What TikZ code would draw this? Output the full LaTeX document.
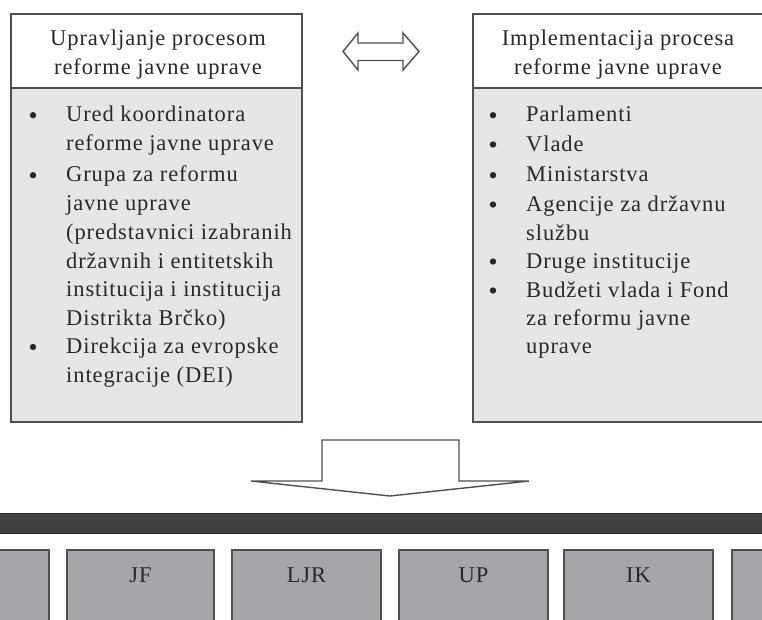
\documentclass[tikz,border=0pt]{standalone}
\usepackage{fontspec}
\setmainfont{Liberation Serif}[LetterSpace=4]
\definecolor{bodygray}{RGB}{229,230,232}
\definecolor{boxgray}{RGB}{165,166,170}
\definecolor{bargray}{RGB}{64,64,64}
\definecolor{edgegray}{RGB}{80,80,80}
\definecolor{inkgray}{RGB}{40,40,40}
\tikzset{
  frame/.style={draw=edgegray, line width=1.6pt},
  headbox/.style={frame, fill=white},
  bodybox/.style={frame, fill=bodygray},
  unitbox/.style={frame, fill=boxgray},
  linetxt/.style={font=\fontsize{22.5}{28.8}\selectfont, text=inkgray, inner sep=0pt, anchor=base west},
  headtxt/.style={font=\fontsize{22.5}{28.8}\selectfont, text=inkgray, inner sep=0pt, anchor=base},
  bul/.style={fill=inkgray},
  arrowshape/.style={draw=edgegray, line width=1.4pt, fill=white, line join=miter}
}
\begin{document}
\begin{tikzpicture}[x=1pt,y=-1pt]
\useasboundingbox (0,0) rectangle (762,619);
\clip (0,0) rectangle (762,619);
% left box
\path[bodybox] (11,88) rectangle (302,422);
\path[headbox] (11,14) rectangle (302,88);
\node[headtxt] (lh1) at (158,45) {Upravljanje procesom};
\node[headtxt] (lh2) at (158,74) {reforme javne uprave};
% right box
\path[bodybox] (473,88) rectangle (775,422);
\path[headbox] (473,14) rectangle (775,88);
\node[headtxt] (rh1) at (618,45) {Implementacija procesa};
\node[headtxt] (rh2) at (618,74) {reforme javne uprave};
% left list
\foreach \i/\yy/\t in {1/121.7/Ured koordinatora, 2/150/reforme javne uprave, 3/181.7/Grupa za reformu, 4/210/javne uprave, 5/239.5/(predstavnici izabranih, 6/268/državnih i entitetskih, 7/296.7/institucija i institucija, 8/325/Distrikta Brčko), 9/353.5/Direkcija za evropske, 10/382/integracije (DEI)}
  \node[linetxt] (l\i) at (66,\yy) {\t};
\foreach \yy in {121.7,181.7,353.5}
  \fill[bul] (33,\yy-6.5) circle (3.2);
% right list
\foreach \i/\yy/\t in {1/121.7/Parlamenti, 2/151/Vlade, 3/181.7/Ministarstva, 4/211/Agencije za državnu, 5/240/službu, 6/268/Druge institucije, 7/297/Budžeti vlada i Fond, 8/325/za reformu javne, 9/353.5/uprave}
  \node[linetxt] (r\i) at (526,\yy) {\t};
\foreach \yy in {121.7,151,181.7,211,268,297}
  \fill[bul] (493,\yy-6.5) circle (3.2);
% double arrow
\path[arrowshape] (343,51.5) -- (358,33) -- (358,43) -- (403,43) -- (403,33) -- (419,51.5) -- (403,70) -- (403,60.5) -- (358,60.5) -- (358,70) -- cycle;
% down arrow
\path[arrowshape] (322,440) -- (459,440) -- (459,481) -- (529,481) -- (390,496) -- (251,481) -- (322,481) -- cycle;
% dark bar
\path[draw=black!85, fill=bargray, line width=1pt] (-5,513) rectangle (770,533);
% unit boxes
\path[unitbox] (-99,550) rectangle (49,640);
\path[unitbox] (67,550) rectangle (214,640);
\path[unitbox] (232,550) rectangle (381,640);
\path[unitbox] (399,550) rectangle (548,640);
\path[unitbox] (564,550) rectangle (713,640);
\path[unitbox] (732,550) rectangle (880,640);
\node[headtxt] (jf) at (140.5,582.7) {JF};
\node[headtxt] (ljr) at (306.5,582.7) {LJR};
\node[headtxt] (up) at (473.5,582.7) {UP};
\node[headtxt] (ik) at (638.5,582.7) {IK};
\end{tikzpicture}
\end{document}
